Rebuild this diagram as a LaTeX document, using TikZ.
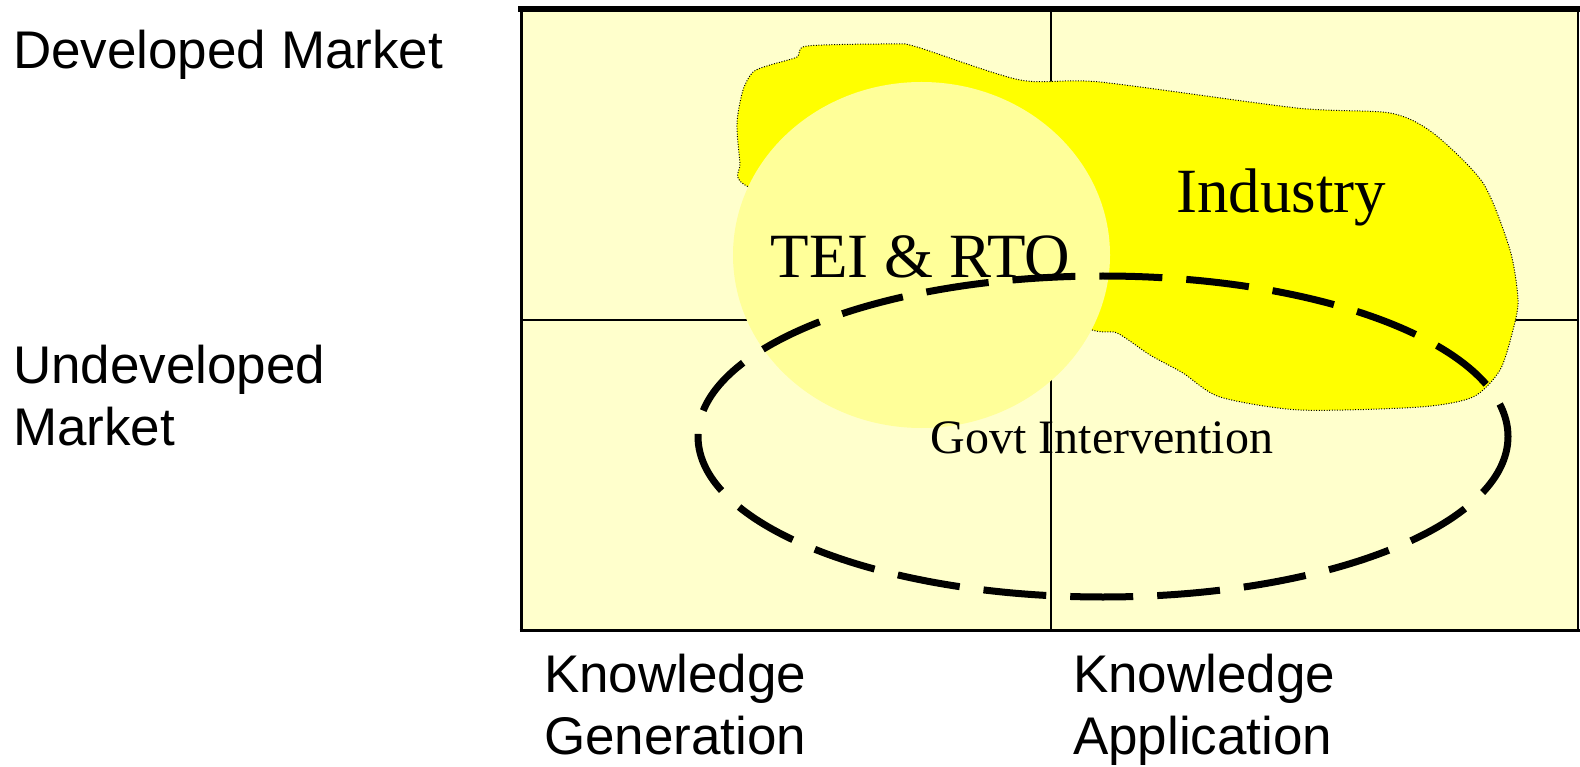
\documentclass[tikz,border=0pt]{standalone}
\usepackage{fontspec}
\newfontfamily\arialf{Liberation Sans}
\newfontfamily\timesf{Liberation Serif}
\definecolor{paleY}{HTML}{FFFFCC}
\definecolor{circY}{HTML}{FFFF99}
\definecolor{blobY}{HTML}{FFFF00}
\tikzset{
  axislabel/.style={font=\arialf\fontsize{53}{62}\selectfont, inner sep=0pt, outer sep=0pt, anchor=base west, align=left},
  biglabel/.style={font=\timesf\fontsize{63}{70}\selectfont, inner sep=0pt, outer sep=0pt, anchor=base},
  midlabel/.style={font=\timesf\fontsize{48}{54}\selectfont, inner sep=0pt, outer sep=0pt, anchor=base},
  gridline/.style={line width=2pt, black},
  blobline/.style={line width=1pt, black, dash pattern=on 1pt off 1.6pt},
  govtline/.style={line width=7pt, black, dash pattern=on 63pt off 24pt}
}
\begin{document}
\begin{tikzpicture}[x=1pt,y=-1pt]
\useasboundingbox (0,0) rectangle (1580,767);
\fill[white] (0,0) rectangle (1580,767);
% quadrant area
\fill[paleY] (521,9) rectangle (1578,630);
\coordinate (vtop) at (1051,9);
\coordinate (vbot) at (1051,630);
\coordinate (hl) at (521,320);
\coordinate (hr) at (1578,320);
\draw[gridline] (vtop) -- (vbot);
\draw[gridline] (hl) -- (hr);
% industry blob
\filldraw[fill=blobY, draw=none] plot[smooth cycle, tension=0.45] coordinates {
 (745,185) (740,163) (737,123) (743,90) (753,72) (770,65) (797,57) (807,46)
 (893,44) (917,47) (1020,80) (1100,82) (1297,108) (1390,113) (1433,133)
 (1483,183) (1510,250) (1518,300) (1513,330) (1500,370) (1473,397) (1420,407)
 (1300,410) (1220,397) (1183,373) (1150,355) (1117,333) (1092,330)
 (1000,300) (850,230)};
\draw[blobline] plot[smooth cycle, tension=0.45] coordinates {
 (745,185) (740,163) (737,123) (743,90) (753,72) (770,65) (797,57) (807,46)
 (893,44) (917,47) (1020,80) (1100,82) (1297,108) (1390,113) (1433,133)
 (1483,183) (1510,250) (1518,300) (1513,330) (1500,370) (1473,397) (1420,407)
 (1300,410) (1220,397) (1183,373) (1150,355) (1117,333) (1092,330)
 (1000,300) (850,230)};
% TEI & RTO circle
\fill[circY] (921.5,255) ellipse [x radius=188.5, y radius=173];
% labels
\node[biglabel] (industry) at (1281,213) {Industry};
\node[biglabel] (tei) at (920.5,278) {TEI \& RTO};
\node[midlabel] (govt) at (1102,453) {Govt Intervention};
% government intervention dashed ellipse
\draw[govtline] (1103,436.5) ellipse [x radius=405, y radius=160.5];
% frame
\coordinate (tl) at (518,9);
\coordinate (tr) at (1580,9);
\draw[line width=6pt] (tl) -- (tr);
\draw[line width=3pt] (521,7) -- (521,631.5);
\draw[line width=3pt] (519.5,630) -- (1580,630);
\draw[line width=2pt] (1578,9) -- (1578,630);
% axis labels (base anchor = last line baseline)
\node[axislabel] (dev) at (13,69) {Developed Market};
\node[axislabel] (undev) at (13,445) {Undeveloped\\Market};
\node[axislabel] (kgen) at (544,754) {Knowledge\\Generation};
\node[axislabel] (kapp) at (1073,754) {Knowledge\\Application};
\end{tikzpicture}
\end{document}
